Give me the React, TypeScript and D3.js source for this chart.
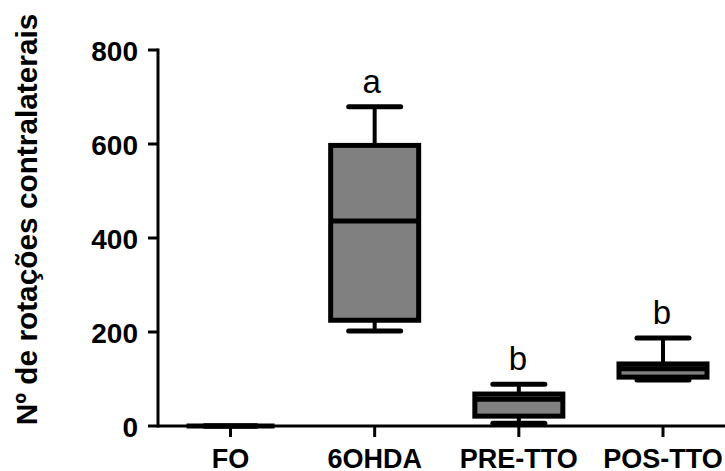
import React from "react";
import * as d3 from "d3";

const categories = ["FO", "6OHDA", "PRE-TTO", "POS-TTO"];
const minValues = [0, 202, 6, 98];
const q1Values = [0, 225, 21, 104];
const medianValues = [0, 436, 57, 122];
const q3Values = [0, 597, 68, 132];
const maxValues = [0, 679, 89, 187];
const letters = ["", "a", "b", "b"];
const yTicks = [0, 200, 400, 600, 800];
const yLabel = "Nº de rotações contralaterais";

const W = 725;
const H = 471;
const FONT = "'Liberation Sans', Arial, Helvetica, sans-serif";

export default function App() {
  const axisX = 158;
  const y = d3.scaleLinear().domain([0, 800]).range([426, 50]);
  const x = d3.scalePoint<string>().domain(categories).range([230.5, 663]);
  const boxW = 88;
  const capW = 52;

  return (
    <svg
      width={W}
      height={H}
      style={{ position: "absolute", left: 0, top: 0, background: "#fff" }}
    >
      {/* Y axis label */}
      <text
        transform={`translate(37, ${(426 + 13) / 2}) rotate(-90)`}
        textAnchor="middle"
        fontFamily={FONT}
        fontWeight="bold"
        fontSize={29.8}
        fill="#000"
      >
        {yLabel}
      </text>

      {/* Y axis */}
      <line x1={axisX} x2={axisX} y1={y(800) - 1.5} y2={y(0) + 1.5} stroke="#000" strokeWidth={3} />
      {yTicks.map((t) => (
        <g key={t}>
          <line x1={axisX - 10} x2={axisX} y1={y(t)} y2={y(t)} stroke="#000" strokeWidth={3} />
          <text
            x={axisX - 20}
            y={y(t)}
            dy="0.4em"
            textAnchor="end"
            fontFamily={FONT}
            fontWeight="bold"
            fontSize={28}
            fill="#000"
          >
            {t}
          </text>
        </g>
      ))}

      {/* X axis */}
      <line x1={axisX} x2={W} y1={y(0)} y2={y(0)} stroke="#000" strokeWidth={3} />
      {categories.map((c) => (
        <g key={c}>
          <line x1={x(c)!} x2={x(c)!} y1={y(0)} y2={y(0) + 11} stroke="#000" strokeWidth={3} />
          <text
            x={x(c)!}
            y={468}
            textAnchor="middle"
            fontFamily={FONT}
            fontWeight="bold"
            fontSize={27}
            fill="#000"
          >
            {c}
          </text>
        </g>
      ))}

      {/* Boxes */}
      {categories.map((c, i) => {
        const cx = x(c)!;
        const yMin = y(minValues[i]);
        const yMax = y(maxValues[i]);
        const yQ1 = y(q1Values[i]);
        const yQ3 = y(q3Values[i]);
        const yMed = y(medianValues[i]);
        return (
          <g key={c}>
            <line x1={cx} x2={cx} y1={yMax} y2={yQ3} stroke="#000" strokeWidth={4} />
            <line x1={cx} x2={cx} y1={yQ1} y2={yMin} stroke="#000" strokeWidth={4} />
            <line
              x1={cx - capW / 2}
              x2={cx + capW / 2}
              y1={yMax}
              y2={yMax}
              stroke="#000"
              strokeWidth={5}
              strokeLinecap="round"
            />
            <line
              x1={cx - capW / 2}
              x2={cx + capW / 2}
              y1={yMin}
              y2={yMin}
              stroke="#000"
              strokeWidth={5}
              strokeLinecap="round"
            />
            <rect
              x={cx - boxW / 2}
              y={yQ3}
              width={boxW}
              height={Math.max(0, yQ1 - yQ3)}
              fill="#808080"
              stroke="#000"
              strokeWidth={5}
            />
            <line
              x1={cx - boxW / 2}
              x2={cx + boxW / 2}
              y1={yMed}
              y2={yMed}
              stroke="#000"
              strokeWidth={5}
            />
            {letters[i] && (
              <text
                x={cx - 2 + (i === 1 ? -1 : 1)}
                y={yMax - 14}
                textAnchor="middle"
                fontFamily={FONT}
                fontSize={33}
                fill="#000"
              >
                {letters[i]}
              </text>
            )}
          </g>
        );
      })}
    </svg>
  );
}
